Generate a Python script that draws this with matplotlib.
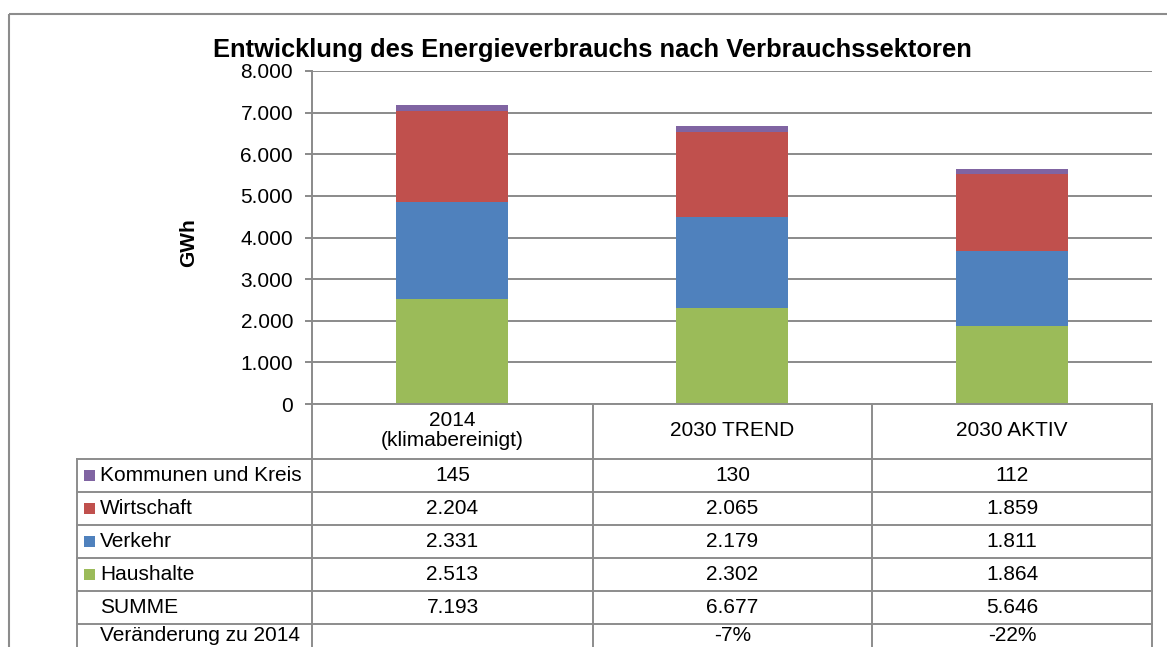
import matplotlib
matplotlib.use("Agg")
import matplotlib.pyplot as plt
from matplotlib.patches import Rectangle

plt.rcParams['font.family'] = ['Liberation Sans', 'DejaVu Sans']

# ---- data ----
categories = ["2014\n(klimabereinigt)", "2030 TREND", "2030 AKTIV"]
series_names = ["Kommunen und Kreis", "Wirtschaft", "Verkehr", "Haushalte"]
haushalte = [2513, 2302, 1864]
verkehr = [2331, 2179, 1811]
wirtschaft = [2204, 2065, 1859]
kommunen = [145, 130, 112]
summe = [7193, 6677, 5646]
yticks = [0, 1000, 2000, 3000, 4000, 5000, 6000, 7000, 8000]
title = "Entwicklung des Energieverbrauchs nach Verbrauchssektoren"
ylabel = "GWh"

colors = {"Haushalte": "#9BBB59", "Verkehr": "#4F81BD",
          "Wirtschaft": "#C0504D", "Kommunen und Kreis": "#8064A2"}

FS = 15
W, H = 1167, 647
fig = plt.figure(figsize=(W / 100, H / 100), dpi=100)

# pixel geometry
px_l, px_r, px_t, px_b = 312, 1152, 71, 404
ax = fig.add_axes([px_l / W, 1 - px_b / H, (px_r - px_l) / W, (px_b - px_t) / H])

x = list(range(len(categories)))
bottom = [0, 0, 0]
stack = [("Haushalte", haushalte), ("Verkehr", verkehr),
         ("Wirtschaft", wirtschaft), ("Kommunen und Kreis", kommunen)]
for name, vals in stack:
    ax.bar(x, vals, width=0.4, bottom=bottom, color=colors[name], zorder=3, linewidth=0)
    bottom = [b + v for b, v in zip(bottom, vals)]

ax.set_xlim(-0.5, len(categories) - 0.5)
ax.set_ylim(0, 8000)
ax.set_yticks(yticks)
ax.set_yticklabels([f"{v:,}".replace(",", ".") for v in yticks], fontsize=FS)
ax.set_xticks([])
grid_c = "#8a8a8a"
ax.yaxis.grid(True, color=grid_c, linewidth=1.4, zorder=0)
for s in ["top", "right", "bottom"]:
    ax.spines[s].set_visible(False)
ax.spines["left"].set_color(grid_c)
ax.spines["left"].set_linewidth(1.4)
ax.tick_params(axis="y", length=5, width=1.4, color=grid_c, pad=8.6)

# ---- overlay in pixel coordinates ----
ov = fig.add_axes([0, 0, 1, 1])
ov.set_xlim(0, W)
ov.set_ylim(H, 0)
ov.axis("off")
ov.patch.set_alpha(0)

# outer frame
ov.add_patch(Rectangle((8.5, 13.5), W + 20, H + 20, fill=False,
                       edgecolor="#8c8c8c", linewidth=1.5, zorder=1))

ov.text(592, 57, title, fontsize=18.4, fontweight="bold",
        ha="center", va="baseline", zorder=5)
ov.text(189, 243, ylabel, fontsize=FS, fontweight="bold", rotation=90,
        ha="center", va="center")

# table
tc = "#8c8c8c"
col_x = [77, px_l, 593, 872, px_r]
row_y = [px_b, 459, 492, 525, 558, 591, 624, 657]
lw = 1.4
ov.plot([px_l, px_r], [px_b, px_b], color=tc, lw=lw)
for cx in col_x[1:]:
    ov.plot([cx, cx], [px_b, H + 5], color=tc, lw=lw)
ov.plot([col_x[0], col_x[0]], [row_y[1], H + 5], color=tc, lw=lw)
for ry in row_y[1:]:
    ov.plot([col_x[0], px_r], [ry, ry], color=tc, lw=lw)

centers = [(col_x[i + 1] + col_x[i + 2]) / 2 for i in range(len(categories))]
for cxm, cat in zip(centers, categories):
    ov.text(cxm, (row_y[0] + row_y[1]) / 2 - 1, cat, fontsize=FS, ha="center",
            va="center", linespacing=1.0)

fmt = lambda v: f"{v:,}".replace(",", ".")
row_data = [("Kommunen und Kreis", kommunen), ("Wirtschaft", wirtschaft),
            ("Verkehr", verkehr), ("Haushalte", haushalte)]
for i, (name, vals) in enumerate(row_data):
    yc = (row_y[i + 1] + row_y[i + 2]) / 2
    ov.add_patch(Rectangle((84, yc - 5.5), 11, 11, color=colors[name], lw=0))
    ov.text(100, yc, name, fontsize=FS, ha="left", va="center")
    for cxm, v in zip(centers, vals):
        ov.text(cxm, yc, fmt(v), fontsize=FS, ha="center", va="center")

yc = (row_y[5] + row_y[6]) / 2
ov.text(100, yc, "SUMME", fontsize=FS, ha="left", va="center")
for cxm, v in zip(centers, summe):
    ov.text(cxm, yc, fmt(v), fontsize=FS, ha="center", va="center")

# last row sits at the bottom edge (as in the reference); nudge up so it stays legible
yb = H - 2
ov.text(100, yb, "Veränderung zu 2014", fontsize=FS, ha="left", va="bottom")
for cxm, v in list(zip(centers, summe))[1:]:
    pct = round((v / summe[0] - 1) * 100)
    ov.text(cxm, yb, f"{pct}%", fontsize=FS, ha="center", va="bottom")

fig.savefig("out.png", dpi=100)
